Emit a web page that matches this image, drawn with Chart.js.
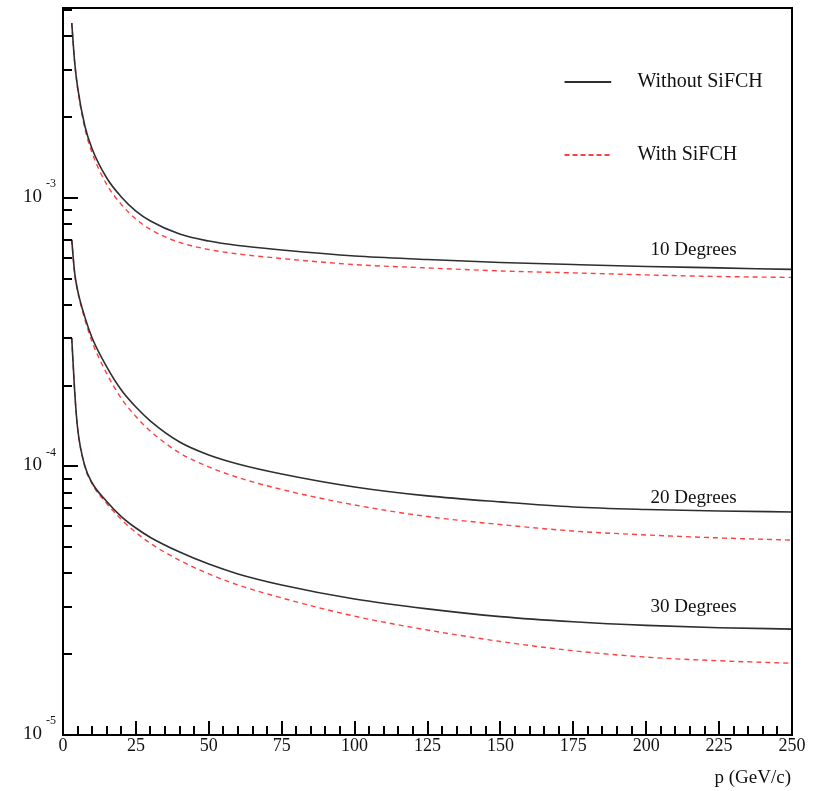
<!DOCTYPE html>
<html><head><meta charset="utf-8">
<script src="https://cdn.jsdelivr.net/npm/chart.js@4/dist/chart.umd.min.js"></script>
<style>html,body{margin:0;padding:0;background:#fff}#wrap{width:817px;height:791px}</style>
</head><body><div id="wrap"><canvas id="c" width="817" height="791"></canvas></div>
<script>
// momentum values (GeV/c)
const pValues = [3,4,5,7.5,10,15,20,25,30,40,50,60,75,100,125,150,175,200,225,250];
// resolution values
const deg10Without = [4.485e-3,3.21e-3,2.59e-3,1.854e-3,1.522e-3,1.187e-3,1.009e-3,8.94e-4,8.21e-4,7.34e-4,6.91e-4,6.65e-4,6.40e-4,6.08e-4,5.90e-4,5.75e-4,5.65e-4,5.56e-4,5.49e-4,5.42e-4];
const deg10With    = [4.485e-3,3.196e-3,2.569e-3,1.815e-3,1.471e-3,1.123e-3,9.46e-4,8.35e-4,7.63e-4,6.83e-4,6.43e-4,6.19e-4,5.95e-4,5.65e-4,5.49e-4,5.35e-4,5.26e-4,5.17e-4,5.10e-4,5.06e-4];
const deg20Without = [6.98e-4,5.26e-4,4.54e-4,3.60e-4,3.01e-4,2.35e-4,1.927e-4,1.665e-4,1.477e-4,1.234e-4,1.104e-4,1.022e-4,9.38e-5,8.39e-5,7.77e-5,7.38e-5,7.07e-5,6.92e-5,6.83e-5,6.77e-5];
const deg20With    = [6.98e-4,5.23e-4,4.50e-4,3.53e-4,2.91e-4,2.22e-4,1.792e-4,1.535e-4,1.353e-4,1.123e-4,9.96e-5,9.10e-5,8.21e-5,7.19e-5,6.51e-5,6.08e-5,5.75e-5,5.56e-5,5.42e-5,5.32e-5];
const deg30Without = [3.01e-4,1.911e-4,1.391e-4,1.004e-4,8.68e-5,7.41e-5,6.51e-5,5.90e-5,5.44e-5,4.80e-5,4.33e-5,3.98e-5,3.62e-5,3.21e-5,2.95e-5,2.76e-5,2.64e-5,2.56e-5,2.51e-5,2.48e-5];
const deg30With    = [3.01e-4,1.90e-4,1.391e-4,1.0e-4,8.61e-5,7.28e-5,6.35e-5,5.68e-5,5.17e-5,4.47e-5,3.98e-5,3.62e-5,3.24e-5,2.77e-5,2.46e-5,2.23e-5,2.06e-5,1.95e-5,1.89e-5,1.85e-5];

// axis ticks and labels
const xMajorTicks = [0,25,50,75,100,125,150,175,200,225,250];
const xMinorStep = 5;
const yDecades = [1e-5,1e-4,1e-3];
const yExponentLabels = ['-5','-4','-3'];
const yMantissas = [1,2,3,4,5,6,7,8,9];
const xMin = 0, xMax = 250, yMin = 1e-5, yMax = 5.1e-3;
const legendLabels = ['Without SiFCH','With SiFCH'];
const curveLabels = ['10 Degrees','20 Degrees','30 Degrees'];
const xTitle = 'p (GeV/c)';

const FONT = '"Liberation Serif", "Times New Roman", serif';
const BLACK = '#2e2e2e';
const RED = 'rgba(255,30,30,0.85)';

function pts(arr){ return pValues.map((p,i)=>({x:p,y:arr[i]})); }
function solid(arr){ return {data:pts(arr), borderColor:BLACK, borderWidth:1.6, pointRadius:0, cubicInterpolationMode:'monotone', fill:false}; }
function dashed(arr){ return {data:pts(arr), borderColor:RED, borderWidth:1.4, borderDash:[5,4], pointRadius:0, cubicInterpolationMode:'monotone', fill:false}; }

const deco = {
  id:'deco',
  afterDraw(chart){
    const ctx = chart.ctx;
    const {left,right,top,bottom} = chart.chartArea;
    const xs = chart.scales.x, ys = chart.scales.y;
    ctx.save();
    ctx.strokeStyle = '#000';
    ctx.fillStyle = '#111';
    ctx.lineWidth = 2;
    ctx.strokeRect(left, top, right-left, bottom-top);
    // x ticks
    ctx.beginPath();
    for (let v = xMin; v <= xMax + 1e-9; v += xMinorStep){
      const px = Math.round(xs.getPixelForValue(v));
      const major = xMajorTicks.includes(v);
      ctx.moveTo(px, bottom); ctx.lineTo(px, bottom - (major ? 14 : 9));
    }
    // y ticks
    yDecades.forEach(d=>{
      yMantissas.forEach(m=>{
        const v = m*d;
        if (v > yMax) return;
        const py = Math.round(ys.getPixelForValue(v));
        ctx.moveTo(left, py); ctx.lineTo(left + (m===1 ? 15 : 9), py);
      });
    });
    ctx.stroke();
    // x labels
    ctx.font = '18px ' + FONT;
    ctx.textAlign = 'center'; ctx.textBaseline = 'middle';
    xMajorTicks.forEach(v=>{
      ctx.fillText(String(v), xs.getPixelForValue(v), bottom + 11);
    });
    // y labels
    yDecades.forEach((d,i)=>{
      const py = ys.getPixelForValue(d);
      ctx.font = '19px ' + FONT;
      ctx.textAlign = 'right'; ctx.textBaseline = 'middle';
      ctx.fillText('10', left - 21, py - 1);
      ctx.font = '12px ' + FONT;
      ctx.textAlign = 'left';
      ctx.fillText(yExponentLabels[i], left - 17, py - 14);
    });
    // x title
    ctx.font = '19px ' + FONT;
    ctx.textAlign = 'right'; ctx.textBaseline = 'middle';
    ctx.fillText(xTitle, right - 1, bottom + 43);
    // legend
    const lx0 = xs.getPixelForValue(172), lx1 = xs.getPixelForValue(188), tx = xs.getPixelForValue(197);
    const ly0 = top + 74, ly1 = top + 147;
    ctx.lineWidth = 1.8; ctx.strokeStyle = BLACK; ctx.setLineDash([]);
    ctx.beginPath(); ctx.moveTo(lx0, ly0); ctx.lineTo(lx1, ly0); ctx.stroke();
    ctx.strokeStyle = RED; ctx.setLineDash([5,3]);
    ctx.beginPath(); ctx.moveTo(lx0, ly1); ctx.lineTo(lx1, ly1); ctx.stroke();
    ctx.setLineDash([]);
    ctx.font = '20px ' + FONT;
    ctx.textAlign = 'left'; ctx.textBaseline = 'middle';
    ctx.fillText(legendLabels[0], tx, ly0);
    ctx.fillText(legendLabels[1], tx, ly1);
    // curve labels
    const ends = [deg10Without, deg20Without, deg30Without];
    const offs = [19, 14, 22];
    ctx.font = '19px ' + FONT;
    ctx.textAlign = 'right';
    curveLabels.forEach((t,i)=>{
      const arr = ends[i];
      const py = ys.getPixelForValue(arr[arr.length-1]) - offs[i];
      ctx.fillText(t, xs.getPixelForValue(231), py);
    });
    ctx.restore();
  }
};

new Chart(document.getElementById('c'), {
  type:'line',
  data:{ datasets:[ solid(deg10Without), dashed(deg10With), solid(deg20Without), dashed(deg20With), solid(deg30Without), dashed(deg30With) ] },
  options:{
    responsive:false, animation:false, devicePixelRatio:1,
    layout:{ padding:{ left:63, top:8, right:25, bottom:56 } },
    plugins:{ legend:{display:false}, tooltip:{enabled:false} },
    scales:{
      x:{ type:'linear', min:xMin, max:xMax, display:false },
      y:{ type:'logarithmic', min:yMin, max:yMax, display:false }
    }
  },
  plugins:[deco]
});
</script>
</body></html>
